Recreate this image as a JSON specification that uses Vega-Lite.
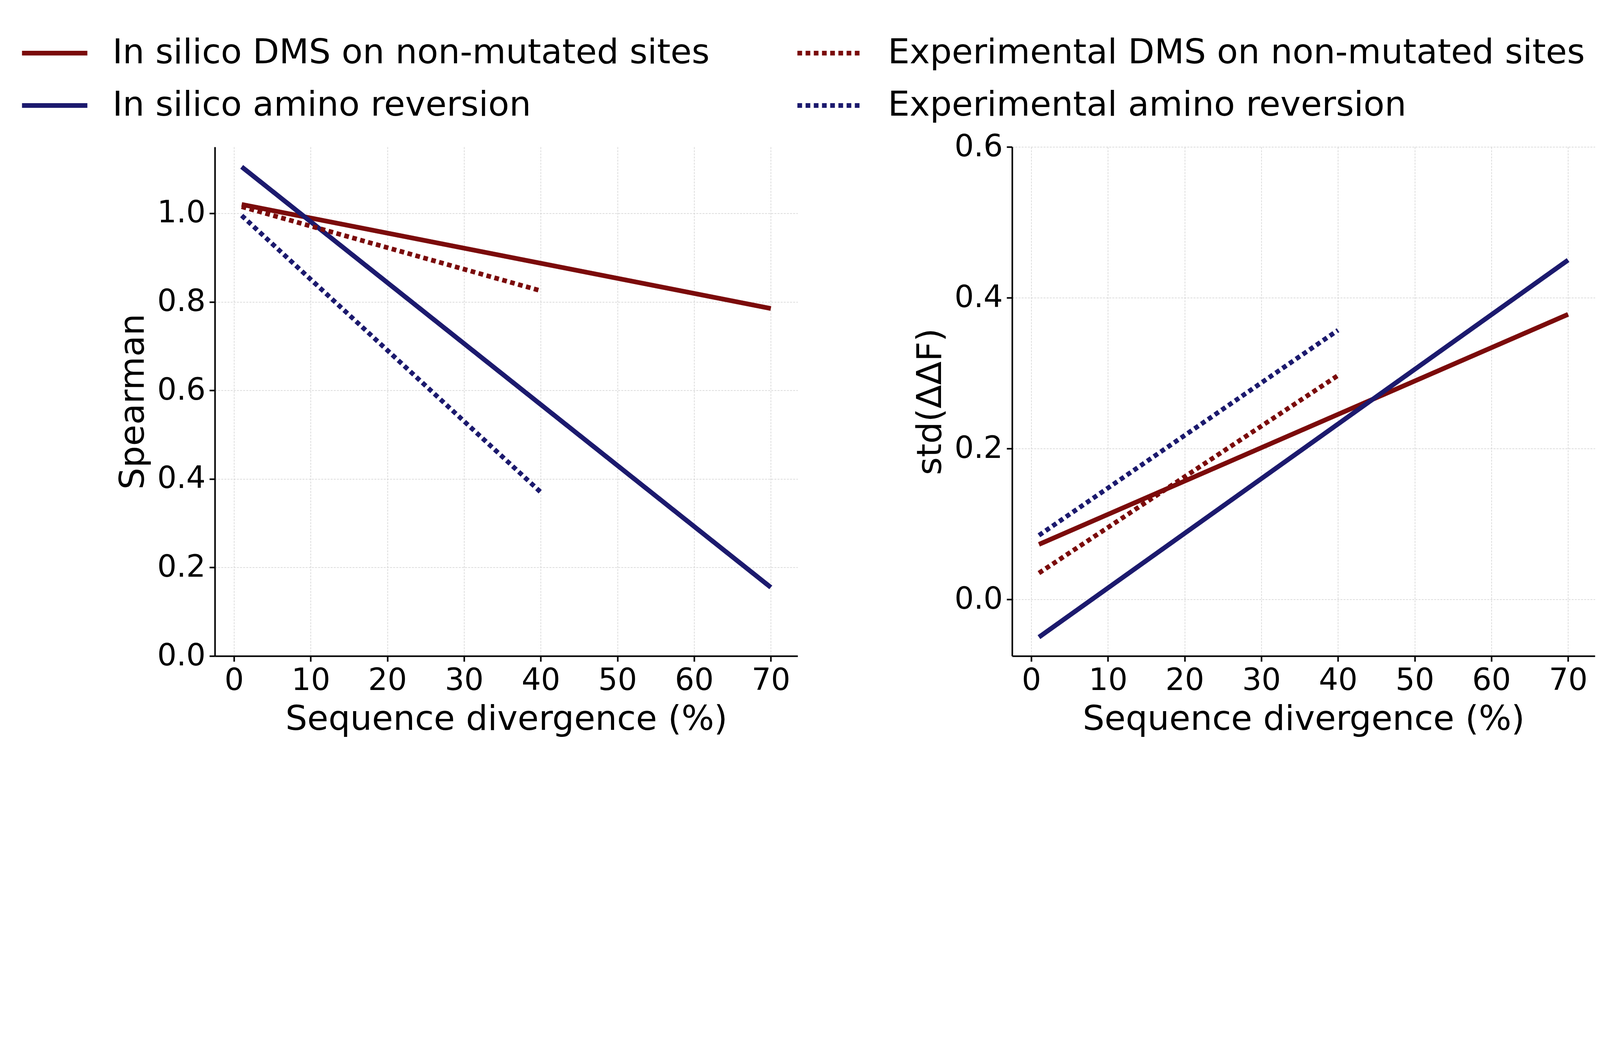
{
  "$schema": "https://vega.github.io/schema/vega-lite/v6.json",
  "background": "white",
  "padding": {"left": 50, "top": 46, "right": 60, "bottom": 20},
  "datasets": {
    "left": [
      {"series": "In silico DMS on non-mutated sites", "x": 1, "y": 1.02},
      {"series": "In silico DMS on non-mutated sites", "x": 70, "y": 0.785},
      {"series": "In silico amino reversion", "x": 1, "y": 1.105},
      {"series": "In silico amino reversion", "x": 70, "y": 0.155},
      {"series": "Experimental DMS on non-mutated sites", "x": 1, "y": 1.015},
      {"series": "Experimental DMS on non-mutated sites", "x": 40, "y": 0.825},
      {"series": "Experimental amino reversion", "x": 1, "y": 0.995},
      {"series": "Experimental amino reversion", "x": 40, "y": 0.37}
    ],
    "right": [
      {"series": "In silico DMS on non-mutated sites", "x": 1, "y": 0.073},
      {"series": "In silico DMS on non-mutated sites", "x": 70, "y": 0.378},
      {"series": "In silico amino reversion", "x": 1, "y": -0.05},
      {"series": "In silico amino reversion", "x": 70, "y": 0.45},
      {"series": "Experimental DMS on non-mutated sites", "x": 1, "y": 0.035},
      {"series": "Experimental DMS on non-mutated sites", "x": 40, "y": 0.297},
      {"series": "Experimental amino reversion", "x": 1, "y": 0.085},
      {"series": "Experimental amino reversion", "x": 40, "y": 0.357}
    ]
  },
  "hconcat": [
    {
      "width": 1492,
      "height": 1303,
      "data": {"name": "left"},
      "mark": {"type": "line", "strokeWidth": 12, "strokeCap": "butt"},
      "encoding": {
        "x": {"field": "x", "type": "quantitative", "scale": {"domain": [-2.5, 73.5], "nice": false, "zero": false},
              "axis": {"values": [0, 10, 20, 30, 40, 50, 60, 70]}, "title": "Sequence divergence (%)"},
        "y": {"field": "y", "type": "quantitative", "scale": {"domain": [0, 1.15], "nice": false},
              "axis": {"values": [0, 0.2, 0.4, 0.6, 0.8, 1.0], "format": ".1f"}, "title": "Spearman"},
        "color": {"field": "series", "type": "nominal", "title": null,
                  "scale": {"domain": ["In silico DMS on non-mutated sites", "Experimental DMS on non-mutated sites", "In silico amino reversion", "Experimental amino reversion"],
                            "range": ["#7b0b0b", "#7b0b0b", "#1c1a6e", "#1c1a6e"]}},
        "strokeDash": {"field": "series", "type": "nominal", "title": null,
                  "scale": {"domain": ["In silico DMS on non-mutated sites", "Experimental DMS on non-mutated sites", "In silico amino reversion", "Experimental amino reversion"],
                            "range": [[1, 0], [12, 9], [1, 0], [12, 9]]}}
      }
    },
    {
      "width": 1492,
      "height": 1303,
      "data": {"name": "right"},
      "mark": {"type": "line", "strokeWidth": 12, "strokeCap": "butt"},
      "encoding": {
        "x": {"field": "x", "type": "quantitative", "scale": {"domain": [-2.5, 73.5], "nice": false, "zero": false},
              "axis": {"values": [0, 10, 20, 30, 40, 50, 60, 70]}, "title": "Sequence divergence (%)"},
        "y": {"field": "y", "type": "quantitative", "scale": {"domain": [-0.075, 0.6], "nice": false, "zero": false},
              "axis": {"values": [0, 0.2, 0.4, 0.6], "format": ".1f"}, "title": "std(ΔΔF)"},
        "color": {"field": "series", "type": "nominal", "title": null},
        "strokeDash": {"field": "series", "type": "nominal", "title": null}
      }
    }
  ],
  "spacing": 296,
  "config": {
    "font": "DejaVu Sans",
    "view": {"stroke": null},
    "axis": {
      "labelFont": "DejaVu Sans", "labelFontSize": 78, "labelColor": "black",
      "titleFont": "DejaVu Sans", "titleFontSize": 88, "titleFontWeight": "normal", "titleColor": "black",
      "domainColor": "black", "domainWidth": 4, "tickColor": "black", "tickWidth": 4, "tickSize": 14,
      "labelPadding": 10, "titlePadding": 16,
      "grid": true, "gridColor": "#d0d0d0", "gridWidth": 1.5, "gridDash": [5, 3]
    },
    "legend": {
      "orient": "none", "legendX": -500, "legendY": -330, "direction": "horizontal", "columns": 2,
      "labelFont": "DejaVu Sans", "labelFontSize": 88, "labelColor": "black", "labelLimit": 3000,
      "symbolType": "stroke", "symbolSize": 28000, "symbolStrokeWidth": 12,
      "rowPadding": 0, "columnPadding": 200, "labelOffset": 58
    }
  }
}
